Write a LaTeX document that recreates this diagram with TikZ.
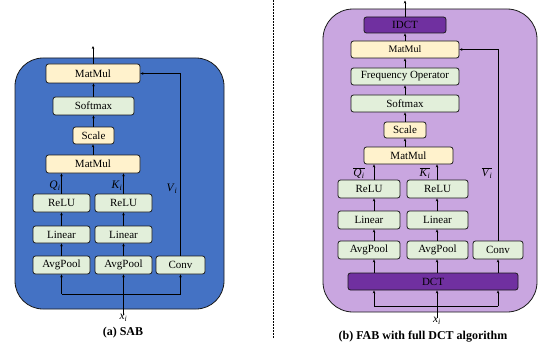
\documentclass[tikz,border=0pt]{standalone}
\usepackage{fontspec}
\setmainfont{Liberation Serif}
\usetikzlibrary{arrows.meta,calc}
\definecolor{sabblue}{HTML}{4472C4}
\definecolor{fabpurple}{HTML}{C9A6E0}
\definecolor{dctpurple}{HTML}{7030A0}
\definecolor{boxgreen}{HTML}{E2EFDA}
\definecolor{boxyellow}{HTML}{FFF2CC}
\definecolor{edge}{HTML}{1A1A1A}
\newcommand{\itl}[2]{\textit{#1}\textsubscript{\textit{#2}}}
\begin{document}
\begin{tikzpicture}[x=1pt,y=-1pt,
  blk/.style={draw=edge,line width=0.8pt,rounded corners=2.5pt,inner sep=0pt,
    font=\fontsize{11}{11}\selectfont},
  gbox/.style={blk,fill=boxgreen},
  ybox/.style={blk,fill=boxyellow},
  pbox/.style={blk,fill=dctpurple},
  arr/.style={draw=black,line width=0.8pt,-{Stealth[length=3pt,width=2.6pt]}},
  ln/.style={draw=black,line width=0.8pt},
  lbl/.style={font=\fontsize{11.5}{11.5}\selectfont,inner sep=0pt},
  captxt/.style={font=\fontsize{12}{12}\selectfont\bfseries,inner sep=0pt}]
\useasboundingbox (0,0) rectangle (544,345);

% ---------- panels ----------
\draw[draw=edge,line width=0.8pt,fill=sabblue,rounded corners=28pt] (15,58) rectangle (224,309);
\draw[draw=edge,line width=0.8pt,fill=fabpurple,rounded corners=30pt] (323,9) rectangle (537,312);
\draw[line width=0.7pt,dash pattern=on 2pt off 1pt] (273,0) -- (273,338);

% ---------- (a) SAB ----------
\node[ybox,minimum width=94pt,minimum height=19pt] (mmA) at (93,73.5) {MatMul};
\node[gbox,minimum width=81pt,minimum height=18pt] (smA) at (93.5,106) {Softmax};
\node[ybox,minimum width=41pt,minimum height=17pt] (scA) at (93.5,135.5) {Scale};
\node[ybox,minimum width=94pt,minimum height=18pt] (mmB) at (93,164) {MatMul};
\node[gbox,minimum width=57pt,minimum height=18pt] (reluQ) at (61.5,203) {ReLU};
\node[gbox,minimum width=57pt,minimum height=18pt] (reluK) at (123.5,203) {ReLU};
\node[gbox,minimum width=57pt,minimum height=17pt] (linQ) at (61.5,234.5) {Linear};
\node[gbox,minimum width=57pt,minimum height=17pt] (linK) at (123.5,234.5) {Linear};
\node[gbox,minimum width=57pt,minimum height=18pt] (apQ) at (61.5,265) {AvgPool};
\node[gbox,minimum width=57pt,minimum height=18pt] (apK) at (123.5,265) {AvgPool};
\node[gbox,minimum width=49pt,minimum height=18pt] (convA) at (180.5,265) {Conv};

\coordinate (outA) at (93,46);
\coordinate (inA) at (123.5,315);
\coordinate (busA) at (93,294);
\coordinate (vA) at (180,0);

\draw[arr] (mmA.north) -- (outA);
\draw[arr] (smA.north) -- (smA.north |- mmA.south);
\draw[arr] (scA.north) -- (scA.north |- smA.south);
\draw[arr] (mmB.north) -- (mmB.north |- scA.south);
\draw[arr] (reluQ.north) -- (reluQ.north |- mmB.south);
\draw[arr] (reluK.north) -- (reluK.north |- mmB.south);
\draw[arr] (linQ.north) -- (reluQ.south);
\draw[arr] (linK.north) -- (reluK.south);
\draw[arr] (apQ.north) -- (linQ.south);
\draw[arr] (apK.north) -- (linK.south);
\draw[arr] (vA |- convA.north) -- (vA |- mmA.east) -- (mmA.east);
\draw[ln] (apQ.south |- busA) -- (convA.south |- busA);
\draw[arr] (apQ.south |- busA) -- (apQ.south);
\draw[arr] (convA.south |- busA) -- (convA.south);
\draw[arr] (inA) -- (apK.south);

\node[lbl] (qA) at (55,186) {\itl{Q}{i}};
\node[lbl] (kA) at (117,186) {\itl{K}{i}};
\node[lbl] (vAl) at (172,189) {\itl{V}{i}};
\node[lbl,anchor=north] (xA) at (123.5,314.5) {\itl{x}{i}};
\node[captxt] (capA) at (123,333) {(a) SAB};

% ---------- (b) FAB ----------
\node[pbox,minimum width=82pt,minimum height=16pt] (idct) at (405,25) {IDCT};
\node[ybox,minimum width=108pt,minimum height=17pt,font=\fontsize{10}{10}\selectfont] (mmC) at (405,49.5) {MatMul};
\node[gbox,minimum width=108pt,minimum height=17pt] (fo) at (405,76.5) {Frequency Operator};
\node[gbox,minimum width=108pt,minimum height=17pt] (smB) at (405,103.5) {Softmax};
\node[ybox,minimum width=42pt,minimum height=16pt] (scB) at (405,130) {Scale};
\node[ybox,minimum width=89pt,minimum height=17pt] (mmD) at (408.5,155.5) {MatMul};
\node[gbox,minimum width=62pt,minimum height=18pt] (reluQ2) at (369,189) {ReLU};
\node[gbox,minimum width=61pt,minimum height=18pt] (reluK2) at (437.5,189) {ReLU};
\node[gbox,minimum width=62pt,minimum height=18pt] (linQ2) at (369,220) {Linear};
\node[gbox,minimum width=61pt,minimum height=18pt] (linK2) at (437.5,220) {Linear};
\node[gbox,minimum width=62pt,minimum height=18pt] (apQ2) at (369,250) {AvgPool};
\node[gbox,minimum width=61pt,minimum height=18pt] (apK2) at (437.5,250) {AvgPool};
\node[gbox,minimum width=50pt,minimum height=18pt] (convB) at (498,250) {Conv};
\node[pbox,minimum width=170pt,minimum height=17pt] (dct) at (433,281.5) {DCT};

\coordinate (cq) at (374,0);
\coordinate (ck) at (437,0);
\coordinate (cv) at (498,0);
\coordinate (outB) at (405,0.5);
\coordinate (inB) at (437,318);
\coordinate (busB) at (400,306);

\draw[arr] (idct.north) -- (outB);
\draw[arr] (mmC.north) -- (mmC.north |- idct.south);
\draw[arr] (fo.north) -- (fo.north |- mmC.south);
\draw[arr] (smB.north) -- (smB.north |- fo.south);
\draw[arr] (scB.north) -- (scB.north |- smB.south);
\draw[arr] (mmD.north -| scB.north) -- (scB.south);
\draw[arr] (cq |- reluQ2.north) -- (cq |- mmD.south);
\draw[arr] (ck |- reluK2.north) -- (ck |- mmD.south);
\draw[arr] (cq |- linQ2.north) -- (cq |- reluQ2.south);
\draw[arr] (ck |- linK2.north) -- (ck |- reluK2.south);
\draw[arr] (cq |- apQ2.north) -- (cq |- linQ2.south);
\draw[arr] (ck |- apK2.north) -- (ck |- linK2.south);
\draw[arr] (cq |- dct.north) -- (cq |- apQ2.south);
\draw[arr] (ck |- dct.north) -- (ck |- apK2.south);
\draw[arr] (cv |- dct.north) -- (cv |- convB.south);
\draw[arr] (cv |- convB.north) -- (cv |- mmC.east) -- (mmC.east);
\draw[ln] (cq |- busB) -- (cv |- busB);
\draw[arr] (cq |- busB) -- (cq |- dct.south);
\draw[arr] (cv |- busB) -- (cv |- dct.south);
\draw[arr] (inB) -- (ck |- dct.south);

\node[lbl] (qB) at (359,173) {$\overline{\mbox{\itl{Q}{i}}}$};
\node[lbl] (kB) at (425,173) {$\overline{\mbox{\itl{K}{i}}}$};
\node[lbl] (vB) at (487,173) {$\overline{\mbox{\itl{V}{i}}}$};
\node[lbl,anchor=north] (xB) at (437,317) {\itl{x}{i}};
\node[captxt] (capB) at (423,337) {(b) FAB with full DCT algorithm};
\end{tikzpicture}
\end{document}
